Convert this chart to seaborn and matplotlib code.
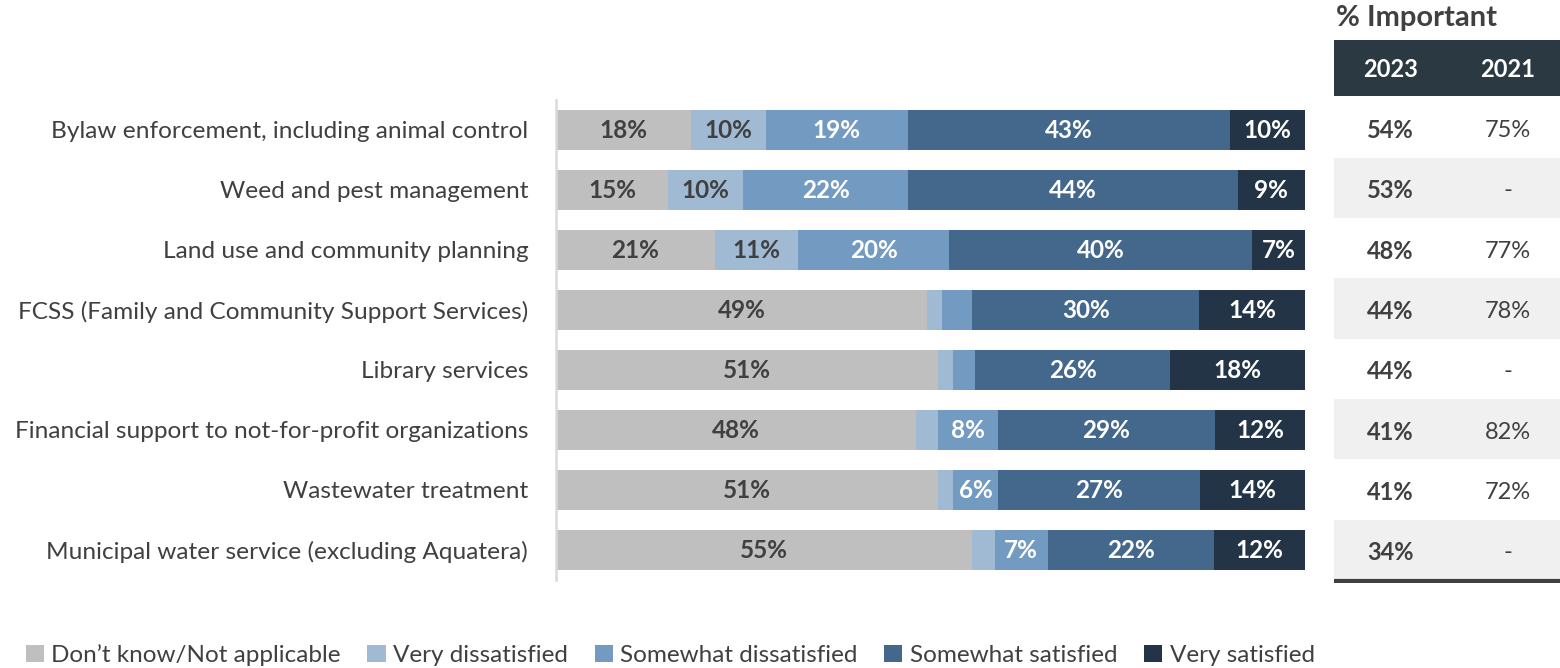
import numpy as np
import pandas as pd
import matplotlib
matplotlib.use("Agg")
import matplotlib.pyplot as plt
from matplotlib.patches import Patch, Rectangle
import seaborn as sns

# ---- data -------------------------------------------------------------
services = [
    "Bylaw enforcement, including animal control",
    "Weed and pest management",
    "Land use and community planning",
    "FCSS (Family and Community Support Services)",
    "Library services",
    "Financial support to not-for-profit organizations",
    "Wastewater treatment",
    "Municipal water service (excluding Aquatera)",
]
responses = [
    "Don\u2019t know/Not applicable",
    "Very dissatisfied",
    "Somewhat dissatisfied",
    "Somewhat satisfied",
    "Very satisfied",
]
dont_know = [18, 15, 21, 49, 51, 48, 51, 55]
very_dissatisfied = [10, 10, 11, 2, 2, 3, 2, 3]
somewhat_dissatisfied = [19, 22, 20, 4, 3, 8, 6, 7]
somewhat_satisfied = [43, 44, 40, 30, 26, 29, 27, 22]
very_satisfied = [10, 9, 7, 14, 18, 12, 14, 12]

important_2023 = ["54%", "53%", "48%", "44%", "44%", "41%", "41%", "34%"]
important_2021 = ["75%", "-", "77%", "78%", "-", "82%", "72%", "-"]
table_years = ["2023", "2021"]

# ---- styling ----------------------------------------------------------
colors = ["#BFBFBF", "#A1BAD4", "#739AC0", "#43688C", "#223446"]
label_colors = ["#404040", "#404040", "white", "white", "white"]
text_color = "#404040"
header_color = "#2B3A42"
band_color = "#F0F0F0"

sns.set_theme(style="white")
plt.rcParams["font.family"] = ["Lato", "DejaVu Sans"]

W, H = 1560, 668
fig = plt.figure(figsize=(W / 100, H / 100), dpi=100)


def px_axes(x0, y0, x1, y1):
    return fig.add_axes([x0 / W, 1 - y1 / H, (x1 - x0) / W, (y1 - y0) / H])


# ---- 100% stacked bars ------------------------------------------------
values = np.array([dont_know, very_dissatisfied, somewhat_dissatisfied,
                   somewhat_satisfied, very_satisfied], dtype=float).T
shares = values / values.sum(axis=1, keepdims=True) * 100
cum = shares.cumsum(axis=1)

ax = px_axes(556, 100, 1305, 580)
for k in reversed(range(len(responses))):
    df = pd.DataFrame({"service": services, "end": cum[:, k]})
    sns.barplot(data=df, x="end", y="service", orient="h", color=colors[k],
                saturation=1, width=0.67, linewidth=0, errorbar=None, ax=ax)

for i in range(len(services)):
    for k in range(len(responses)):
        v = values[i, k]
        if v >= 5:
            ax.text(cum[i, k] - shares[i, k] / 2, i, f"{int(v)}%",
                    ha="center", va="center", fontsize=17.5, fontweight="bold",
                    color=label_colors[k])

ax.set_xlim(0, 100)
ax.set_ylim(7.5, -0.5)
ax.set_xlabel("")
ax.set_ylabel("")
ax.set_xticks([])
ax.tick_params(axis="y", length=0, pad=20, labelsize=17.6, labelcolor=text_color)
for side in ["top", "right", "bottom"]:
    ax.spines[side].set_visible(False)
ax.spines["left"].set_color("#D9D9D9")
ax.spines["left"].set_linewidth(1.8)

# ---- "% Important" side table -----------------------------------------
tx = px_axes(1334, 40, 1560, 583)
tx.set_xlim(0, 1)
tx.set_ylim(7.55, -1.45)
tx.axis("off")
tx.add_patch(Rectangle((0, -1.45), 1, 0.93, color=header_color, lw=0))
col_x = [0.25, 0.77]
for cx, yr in zip(col_x, table_years):
    tx.text(cx, -0.96, yr, ha="center", va="center", color="white",
            fontsize=17, fontweight="bold")
for i in range(len(services)):
    if i % 2 == 1:
        tx.add_patch(Rectangle((0, i - 0.5), 1, 1, color=band_color, lw=0))
    tx.text(col_x[0], i + 0.05, important_2023[i], ha="center", va="center",
            color=text_color, fontsize=17, fontweight="bold")
    tx.text(col_x[1], i + 0.05, important_2021[i], ha="center", va="center",
            color=text_color, fontsize=17)
tx.plot([0, 1], [7.52, 7.52], color="#404040", lw=3, solid_capstyle="butt")

fig.text(1336 / W, 1 - 18 / H, "% Important", ha="left", va="center",
         fontsize=21, fontweight="bold", color=text_color)

# ---- legend -----------------------------------------------------------
handles = [Patch(facecolor=c, edgecolor="none") for c in colors]
fig.legend(handles, responses, loc="center left",
           bbox_to_anchor=(16 / W, 1 - 655 / H), ncol=5, frameon=False,
           fontsize=17.5, labelcolor=text_color, handlelength=0.75,
           handleheight=0.75, handletextpad=0.3, columnspacing=1.1,
           borderaxespad=0)

fig.savefig("out.png", dpi=100)
